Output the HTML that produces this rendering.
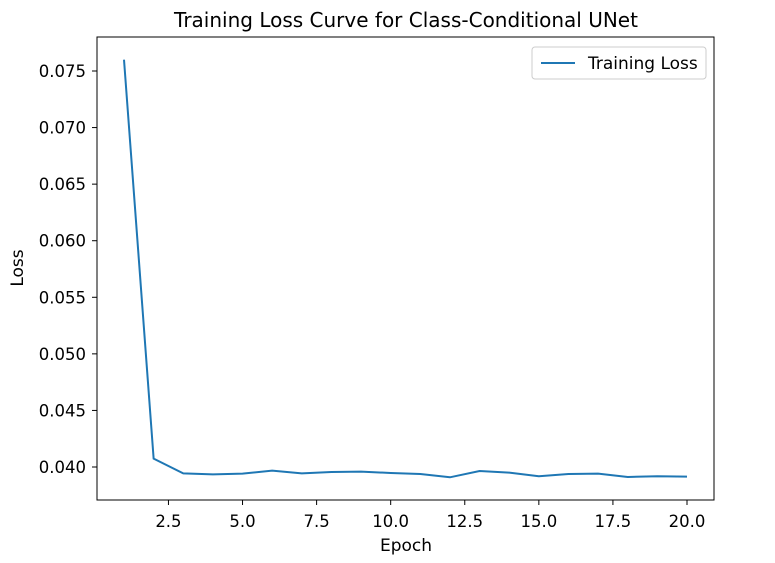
<!DOCTYPE html>
<html><head><meta charset="utf-8"><style>
body{margin:0;background:#fff;}
svg{display:block;font-family:"DejaVu Sans","Liberation Sans",sans-serif;}
</style></head><body>
<svg id="chart" width="775" height="563">
<text x="406" y="27" text-anchor="middle" font-size="20" fill="#000">Training Loss Curve for Class-Conditional UNet</text>
<g id="axes"></g>
<polyline id="line" fill="none" stroke="#1f77b4" stroke-width="2"></polyline>
<rect x="97" y="37" width="617" height="463" fill="none" stroke="#000" stroke-width="1"/>
<g>
<rect x="532" y="47" width="174" height="32" rx="3" fill="#fff" stroke="#ccc"/>
<line x1="541" y1="63" x2="575" y2="63" stroke="#1f77b4" stroke-width="2"/>
<text x="588" y="69" font-size="17">Training Loss</text>
</g>
<text x="406" y="551" text-anchor="middle" font-size="17">Epoch</text>
<text x="23" y="268" text-anchor="middle" font-size="17" transform="rotate(-90 23 268)">Loss</text>
</svg>
<script>
const epochs=[1,2,3,4,5,6,7,8,9,10,11,12,13,14,15,16,17,18,19,20];
const losses=[0.0760,0.04074,0.03944,0.03935,0.03941,0.03968,0.03944,0.03956,0.03959,0.03947,0.03938,0.03909,0.03965,0.03950,0.03918,0.03938,0.03941,0.03912,0.03918,0.03915];
const xTicks=[2.5,5.0,7.5,10.0,12.5,15.0,17.5,20.0];
const yTicks=[0.040,0.045,0.050,0.055,0.060,0.065,0.070,0.075];
const xS=v=>124+(v-1)*(687-124)/19;
const yS=v=>467-(v-0.040)*(467-71)/0.035;
const ns="http://www.w3.org/2000/svg";
const ax=document.getElementById('axes');
xTicks.forEach(t=>{
 const l=document.createElementNS(ns,'line');
 
 
 l.setAttribute('x1',xS(t));l.setAttribute('x2',xS(t));l.setAttribute('y1',500);l.setAttribute('y2',505);l.setAttribute('stroke','#000');
 ax.appendChild(l);
 const tx=document.createElementNS(ns,'text');
 
 
 tx.setAttribute('x',xS(t));tx.setAttribute('y',527);tx.setAttribute('text-anchor','middle');tx.setAttribute('font-size','16.5');
 tx.textContent=t.toFixed(1);ax.appendChild(tx);
});
yTicks.forEach(t=>{
 const l=document.createElementNS(ns,'line');
 
 
 l.setAttribute('x1',92);l.setAttribute('x2',97);l.setAttribute('y1',yS(t));l.setAttribute('y2',yS(t));l.setAttribute('stroke','#000');
 ax.appendChild(l);
 const tx=document.createElementNS(ns,'text');
 
 
 tx.setAttribute('x',86);tx.setAttribute('y',yS(t)+6);tx.setAttribute('text-anchor','end');tx.setAttribute('font-size','16.5');
 tx.textContent=t.toFixed(3);ax.appendChild(tx);
});
document.getElementById('line').setAttribute('points',epochs.map((e,i)=>xS(e)+','+yS(losses[i])).join(' '));
</script>
</body></html>
